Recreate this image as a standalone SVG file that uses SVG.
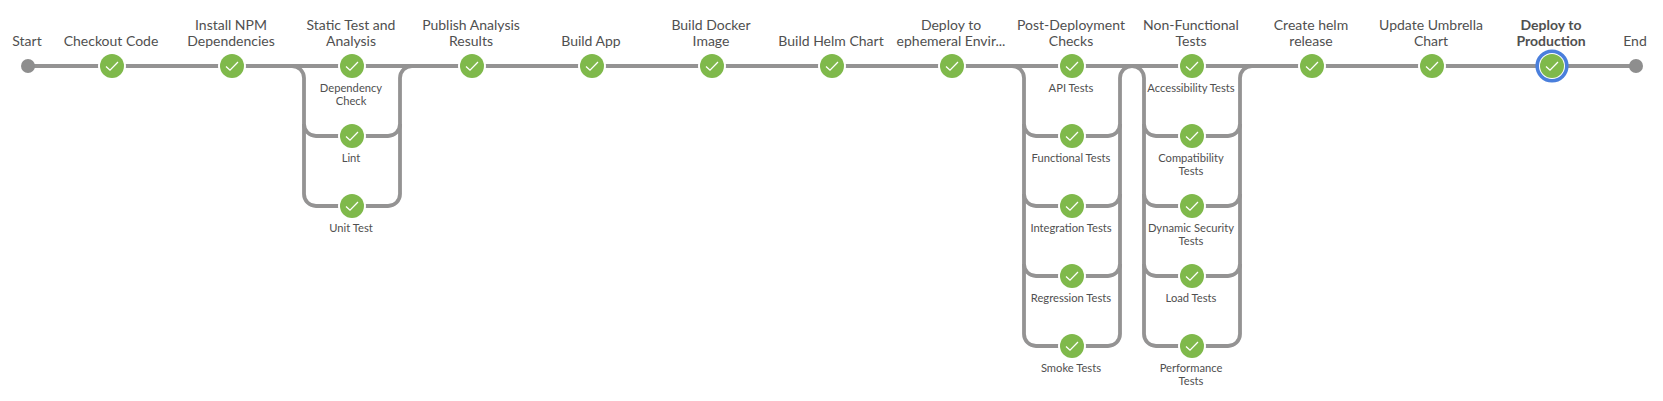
<svg xmlns="http://www.w3.org/2000/svg" width="1663" height="401" viewBox="0 0 1663 401">
<style>
text{font-family:Lato,"Open Sans","Liberation Sans",sans-serif;text-anchor:middle;fill:#505050}
.t{font-size:14px}
.s{font-size:11.2px}
.sel{font-weight:700}
.c{fill:none;stroke:#949393;stroke-width:3.8}
.halo{fill:#fff}
.ok{fill:#7fb94b}
.ring{fill:none;stroke:#4a7fdc;stroke-width:3.6}
.chk{fill:none;stroke:#fff;stroke-width:1.3}
.end{fill:#8e8e8e}
</style>
<defs>
<g id="n"><circle class="halo" r="14"/><circle class="ok" r="12"/><path class="chk" d="M-6 0.5L-2 4.2L6-4"/></g>
</defs>
<rect width="1663" height="401" fill="#fff"/>
<g id="connectors">
<path class="c" d="M28 66H1636"/>
<path class="c" d="M292 66a12 12 0 0 1 12 12V194a12 12 0 0 0 12 12H388a12 12 0 0 0 12-12V78a12 12 0 0 1 12-12"/>
<path class="c" d="M304 124a12 12 0 0 0 12 12H388a12 12 0 0 0 12-12"/>
<path class="c" d="M1012 66a12 12 0 0 1 12 12V334a12 12 0 0 0 12 12H1108a12 12 0 0 0 12-12V78a12 12 0 0 1 12-12"/>
<path class="c" d="M1024 124a12 12 0 0 0 12 12H1108a12 12 0 0 0 12-12M1024 194a12 12 0 0 0 12 12H1108a12 12 0 0 0 12-12M1024 264a12 12 0 0 0 12 12H1108a12 12 0 0 0 12-12"/>
<path class="c" d="M1132 66a12 12 0 0 1 12 12V334a12 12 0 0 0 12 12H1228a12 12 0 0 0 12-12V78a12 12 0 0 1 12-12"/>
<path class="c" d="M1144 124a12 12 0 0 0 12 12H1228a12 12 0 0 0 12-12M1144 194a12 12 0 0 0 12 12H1228a12 12 0 0 0 12-12M1144 264a12 12 0 0 0 12 12H1228a12 12 0 0 0 12-12"/>
</g>
<g id="start"><circle class="end" cx="28" cy="66" r="7"/><text class="t" x="27" y="46">Start</text></g>
<g id="checkout"><use href="#n" x="112" y="66"/><text class="t" x="111" y="46">Checkout Code</text></g>
<g id="install"><use href="#n" x="232" y="66"/><text class="t" x="231" y="30">Install NPM</text><text class="t" x="231" y="46">Dependencies</text></g>
<g id="static"><use href="#n" x="352" y="66"/><text class="t" x="351" y="30">Static Test and</text><text class="t" x="351" y="46">Analysis</text></g>
<g id="dependency"><text class="s" x="351" y="92">Dependency</text><text class="s" x="351" y="105">Check</text></g>
<g id="lint"><use href="#n" x="352" y="136"/><text class="s" x="351" y="162">Lint</text></g>
<g id="unit"><use href="#n" x="352" y="206"/><text class="s" x="351" y="232">Unit Test</text></g>
<g id="publish"><use href="#n" x="472" y="66"/><text class="t" x="471" y="30">Publish Analysis</text><text class="t" x="471" y="46">Results</text></g>
<g id="build-app"><use href="#n" x="592" y="66"/><text class="t" x="591" y="46">Build App</text></g>
<g id="docker"><use href="#n" x="712" y="66"/><text class="t" x="711" y="30">Build Docker</text><text class="t" x="711" y="46">Image</text></g>
<g id="helm"><use href="#n" x="832" y="66"/><text class="t" x="831" y="46">Build Helm Chart</text></g>
<g id="ephemeral"><use href="#n" x="952" y="66"/><text class="t" x="951" y="30">Deploy to</text><text class="t" x="951" y="46">ephemeral Envir...</text></g>
<g id="post"><use href="#n" x="1072" y="66"/><text class="t" x="1071" y="30">Post-Deployment</text><text class="t" x="1071" y="46">Checks</text></g>
<g id="api"><text class="s" x="1071" y="92">API Tests</text></g>
<g id="functional"><use href="#n" x="1072" y="136"/><text class="s" x="1071" y="162">Functional Tests</text></g>
<g id="integration"><use href="#n" x="1072" y="206"/><text class="s" x="1071" y="232">Integration Tests</text></g>
<g id="regression"><use href="#n" x="1072" y="276"/><text class="s" x="1071" y="302">Regression Tests</text></g>
<g id="smoke"><use href="#n" x="1072" y="346"/><text class="s" x="1071" y="372">Smoke Tests</text></g>
<g id="nonfunctional"><use href="#n" x="1192" y="66"/><text class="t" x="1191" y="30">Non-Functional</text><text class="t" x="1191" y="46">Tests</text></g>
<g id="accessibility"><text class="s" x="1191" y="92">Accessibility Tests</text></g>
<g id="compatibility"><use href="#n" x="1192" y="136"/><text class="s" x="1191" y="162">Compatibility</text><text class="s" x="1191" y="175">Tests</text></g>
<g id="dynamic"><use href="#n" x="1192" y="206"/><text class="s" x="1191" y="232">Dynamic Security</text><text class="s" x="1191" y="245">Tests</text></g>
<g id="load"><use href="#n" x="1192" y="276"/><text class="s" x="1191" y="302">Load Tests</text></g>
<g id="performance"><use href="#n" x="1192" y="346"/><text class="s" x="1191" y="372">Performance</text><text class="s" x="1191" y="385">Tests</text></g>
<g id="release"><use href="#n" x="1312" y="66"/><text class="t" x="1311" y="30">Create helm</text><text class="t" x="1311" y="46">release</text></g>
<g id="umbrella"><use href="#n" x="1432" y="66"/><text class="t" x="1431" y="30">Update Umbrella</text><text class="t" x="1431" y="46">Chart</text></g>
<g id="production"><use href="#n" x="1552" y="66"/><circle class="ring" cx="1552" cy="66" r="14.8"/><text class="t sel" x="1551" y="30">Deploy to</text><text class="t sel" x="1551" y="46">Production</text></g>
<g id="end"><circle class="end" cx="1636" cy="66" r="7"/><text class="t" x="1635" y="46">End</text></g>
</svg>
